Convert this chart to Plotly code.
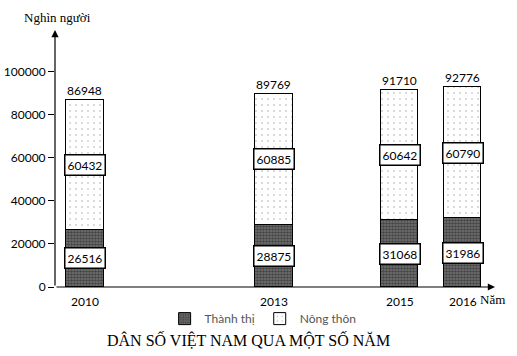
import plotly.graph_objects as go

years = [2010, 2013, 2015, 2016]
urban = [26516, 28875, 31068, 31986]
rural = [60432, 60885, 60642, 60790]
totals = [86948, 89769, 91710, 92776]
yticks = [0, 20000, 40000, 60000, 80000, 100000]

BW = 0.59
SANS = "Lato, Liberation Sans, sans-serif"
fig = go.Figure()
fig.add_trace(go.Bar(
    x=years, y=urban, name="Thành thị", width=BW,
    marker=dict(color="#555", line=dict(color="black", width=1),
                pattern=dict(shape=".", size=3, solidity=0.6, fgcolor="#111", bgcolor="#777", fillmode="overlay")),
))
fig.add_trace(go.Bar(
    x=years, y=rural, name="Nông thôn", width=BW,
    marker=dict(color="white", line=dict(color="black", width=1),
                pattern=dict(shape=".", size=6, solidity=0.06, fgcolor="#555", bgcolor="white")),
))

lbl_font = dict(family=SANS, size=12, color="black")
for x, u, r, t in zip(years, urban, rural, totals):
    fig.add_annotation(x=x, y=t, text=str(t), showarrow=False, yanchor="bottom", font=lbl_font)
    fig.add_annotation(x=x, y=u / 2, text=str(u), showarrow=False, font=lbl_font,
                       bgcolor="white", bordercolor="black", borderwidth=1.5, borderpad=2)
    fig.add_annotation(x=x, y=u + r / 2, text=str(r), showarrow=False, font=lbl_font,
                       bgcolor="white", bordercolor="black", borderwidth=1.5, borderpad=2)

xmin, xmax = 2009.524, 2016.51
ymax = 119500
# axis arrows
fig.add_annotation(x=xmin, y=ymax, ax=xmin, ay=0, xref="x", yref="y", axref="x", ayref="y",
                   showarrow=True, arrowhead=2, arrowsize=1.2, arrowwidth=1.2, arrowcolor="black", text="")
fig.add_annotation(x=xmax, y=0, ax=xmin, ay=0, xref="x", yref="y", axref="x", ayref="y",
                   showarrow=True, arrowhead=2, arrowsize=1.2, arrowwidth=1.2, arrowcolor="black", text="")

fig.add_annotation(x=-0.075, y=1.05, xref="paper", yref="paper", text="Nghìn người", showarrow=False,
                   xanchor="left", yanchor="middle",
                   font=dict(family="Liberation Serif", size=13, color="black"))
fig.add_annotation(x=0.961, y=-0.05, xref="paper", yref="paper", text="Năm", showarrow=False,
                   xanchor="left", yanchor="middle", font=dict(family="Liberation Serif", size=13, color="black"))
fig.add_annotation(x=0.44, y=-0.206, xref="paper", yref="paper", text="DÂN SỐ VIỆT NAM QUA MỘT SỐ NĂM",
                   showarrow=False, xanchor="center", yanchor="middle",
                   font=dict(family="Liberation Serif", size=16, color="black"))

fig.update_layout(
    width=517, height=356,
    margin=dict(l=55, r=22, t=30, b=69, autoexpand=False),
    paper_bgcolor="white", plot_bgcolor="white",
    barmode="stack", bargap=0,
    showlegend=True,
    legend=dict(orientation="h", x=0.473, xanchor="center", y=-0.123, yanchor="middle",
                bgcolor="rgba(0,0,0,0)",
                font=dict(family=SANS, size=12, color="#555"),
                itemwidth=30, traceorder="normal", tracegroupgap=0),
    xaxis=dict(range=[xmin, xmax], tickvals=years, ticktext=[str(y) for y in years],
               showgrid=False, zeroline=False, showline=False, ticks="", ticklabelstandoff=6,
               tickfont=dict(family=SANS, size=12, color="black")),
    yaxis=dict(range=[0, ymax], tickvals=yticks, ticktext=[str(v) for v in yticks],
               showgrid=False, zeroline=False, showline=False, ticks="outside", ticklen=6,
               tickcolor="black", tickwidth=1,
               tickfont=dict(family=SANS, size=12, color="black")),
    font=dict(family=SANS),
)

fig.write_html("out.html", config={"displayModeBar": False},
               post_script="document.body.style.margin='0';")
